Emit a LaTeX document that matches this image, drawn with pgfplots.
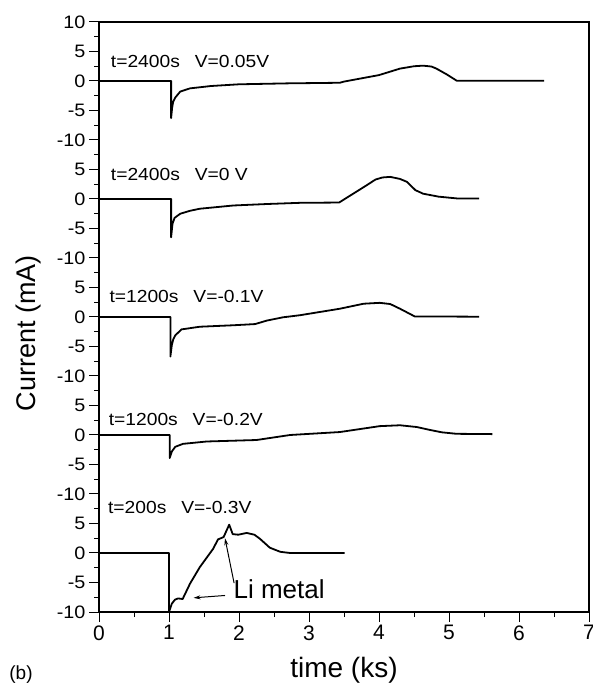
\documentclass[border=0pt]{standalone}
\usepackage{fontspec}
\setmainfont{Liberation Sans}
\newfontfamily\ytickfont[FakeStretch=1.1]{Liberation Sans}
\newfontfamily\panelfont[FakeStretch=1.1]{Liberation Sans}
\usepackage{pgfplots}
\usepackage{pgfplotstable}
\pgfplotsset{compat=1.18}
\usetikzlibrary{arrows.meta}

% t in ks, current in mA (each panel stacked 20 mA lower)
\pgfplotstableread{
t I
0 0
1.03 0
1.03 -6.3
1.045 -4.5
1.06 -3.5
1.09 -2.8
1.16 -1.8
1.3 -1.25
1.6 -0.85
2.0 -0.56
2.7 -0.4
3.44 -0.3
3.5 -0.1
4.0 1.0
4.3 2.1
4.5 2.5
4.63 2.6
4.75 2.45
4.82 2.1
4.97 1.1
5.11 0.05
6.36 0.05
}\datA

\pgfplotstableread{
t I
0 0
1.03 0
1.03 -6.5
1.05 -4.2
1.08 -3.2
1.16 -2.5
1.3 -2.0
1.44 -1.65
1.92 -1.1
2.4 -0.85
2.87 -0.65
3.43 -0.6
3.82 2.3
3.95 3.3
4.05 3.65
4.16 3.75
4.3 3.4
4.40 2.9
4.52 1.5
4.63 0.9
4.85 0.4
5.11 0.1
5.43 0.1
}\datB

\pgfplotstableread{
t I
0 0
1.02 0
1.02 -6.7
1.04 -4.8
1.06 -3.8
1.09 -3.1
1.18 -2.1
1.44 -1.65
1.92 -1.4
2.23 -1.2
2.40 -0.6
2.63 -0.05
2.87 0.3
3.44 1.4
3.78 2.25
4.01 2.4
4.16 2.2
4.30 1.4
4.51 0.1
5.43 0.05
}\datC

\pgfplotstableread{
t I
0 0
1.01 0
1.01 -3.9
1.04 -2.8
1.09 -2.0
1.2 -1.5
1.54 -1.1
2.25 -0.85
2.73 0
3.44 0.5
4.01 1.5
4.30 1.65
4.54 1.35
4.73 0.85
4.9 0.45
5.11 0.2
5.62 0.15
}\datD

\pgfplotstableread{
t I
0 0
1.0 0
1.0 -10
1.04 -8.6
1.086 -7.9
1.13 -7.7
1.195 -7.8
1.3 -5.2
1.44 -2.4
1.63 0.7
1.70 2.3
1.78 2.7
1.86 4.8
1.91 3.2
1.99 3.1
2.11 3.4
2.22 3.1
2.3 2.4
2.44 0.9
2.59 0.2
2.73 0
3.51 0
}\datE

\begin{document}
\begin{tikzpicture}
  \begin{axis}[
    name=ax,
    scale only axis,
    width=490pt,
    height=590pt,
    xmin=0, xmax=7,
    ymin=-90, ymax=10,
    xtick={0,1,...,7},
    ytick={-90,-85,...,10},
    yticklabels={-10,-5,0,5,-10,-5,0,5,-10,-5,0,5,-10,-5,0,5,-10,-5,0,5,10},
    minor x tick num=1,
    minor y tick num=1,
    tick align=outside,
    xtick pos=bottom,
    ytick pos=left,
    major tick length=10pt,
    minor tick length=5pt,
    axis line style={line width=1.2pt},
    every tick/.style={black, line width=1pt},
    /pgf/number format/assume math mode=true,
    xticklabel style={font=\fontsize{21}{21}\selectfont},
    yticklabel style={font=\ytickfont\fontsize{18}{18}\selectfont},
    clip=false
  ]
    \addplot[black, line width=1.8pt, line join=round] table[x=t, y expr=\thisrow{I}] {\datA};
    \addplot[black, line width=1.8pt, line join=round] table[x=t, y expr=\thisrow{I}-20] {\datB};
    \addplot[black, line width=1.8pt, line join=round] table[x=t, y expr=\thisrow{I}-40] {\datC};
    \addplot[black, line width=1.8pt, line join=round] table[x=t, y expr=\thisrow{I}-60] {\datD};
    \addplot[black, line width=1.8pt, line join=round] table[x=t, y expr=\thisrow{I}-80] {\datE};

    \begin{scope}[font=\panelfont\fontsize{17.5}{17.5}\selectfont]
      \node[anchor=west] at (axis cs:0.12,3.3) {t=2400s\hspace{0.85em}V=0.05V};
      \node[anchor=west] at (axis cs:0.12,-15.8) {t=2400s\hspace{0.85em}V=0 V};
      \node[anchor=west] at (axis cs:0.10,-36.55) {t=1200s\hspace{0.85em}V=-0.1V};
      \node[anchor=west] at (axis cs:0.09,-57.3) {t=1200s\hspace{0.85em}V=-0.2V};
      \node[anchor=west] at (axis cs:0.08,-72.2) {t=200s\hspace{0.85em}V=-0.3V};
    \end{scope}

    \node[anchor=west, inner sep=0pt, font=\fontsize{26}{26}\selectfont] at (axis cs:1.92,-86.1) {Li metal};
    \draw[-{Stealth[length=7pt,width=4pt]}, line width=1pt] (axis cs:1.80,-87.2) -- (axis cs:1.35,-87.6);
    \draw[-{Stealth[length=7pt,width=4pt]}, line width=1pt] (axis cs:1.93,-85.1) -- (axis cs:1.80,-77.5);
  \end{axis}

  \node[rotate=90, font=\fontsize{27}{27}\selectfont] at ([xshift=-70pt,yshift=-16pt]ax.west) {Current (mA)};
  \node[font=\fontsize{28}{28}\selectfont] at ([yshift=-58pt]ax.south) {time (ks)};
  \node[font=\fontsize{19}{19}\selectfont] at ([xshift=-78pt,yshift=-63pt]ax.south west) {(b)};

  \pgfresetboundingbox
  \useasboundingbox ([xshift=-99pt,yshift=-75pt]ax.south west) rectangle ([xshift=4pt,yshift=22pt]ax.north east);
\end{tikzpicture}
\end{document}
